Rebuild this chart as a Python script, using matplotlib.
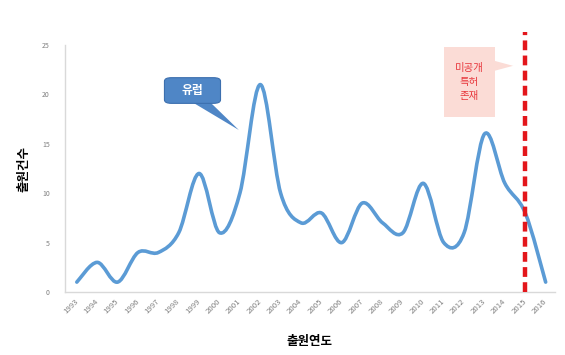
import matplotlib.pyplot as plt
import numpy as np
from matplotlib.path import Path
from matplotlib.patches import PathPatch, FancyBboxPatch, Polygon

plt.rcParams['font.family'] = ['Noto Sans CJK KR', 'DejaVu Sans']

# Data
years = [str(y) for y in range(1993, 2017)]
counts = [1, 3, 1, 4, 4, 6, 12, 6, 10, 21, 10, 7, 8, 5, 9, 7, 6, 11, 5, 6, 16, 11, 8, 1]
yticks = [0, 5, 10, 15, 20, 25]

line_color = '#5B9BD5'
axis_color = '#D9D9D9'
tick_color = '#7F7F7F'

fig = plt.figure(figsize=(5.65, 3.55), dpi=100)
ax = fig.add_axes([0.115, 0.1775, 0.867, 0.6955])

# smooth line (Excel style bezier through the data points)
x = np.arange(len(counts), dtype=float)
y = np.array(counts, dtype=float)
verts = [(x[0], y[0])]
codes = [Path.MOVETO]
for i in range(len(x) - 1):
    x0, y0 = (x[i - 1], y[i - 1]) if i > 0 else (x[i], y[i])
    x3, y3 = (x[i + 2], y[i + 2]) if i + 2 < len(x) else (x[i + 1], y[i + 1])
    c1 = (x[i] + (x[i + 1] - x0) / 6, y[i] + (y[i + 1] - y0) / 6)
    c2 = (x[i + 1] - (x3 - x[i]) / 6, y[i + 1] - (y3 - y[i]) / 6)
    verts += [c1, c2, (x[i + 1], y[i + 1])]
    codes += [Path.CURVE4] * 3
ax.add_patch(PathPatch(Path(verts, codes), fill=False, edgecolor=line_color,
                       lw=2.6, capstyle='round', joinstyle='round', zorder=3))

ax.set_xlim(-0.58, 23.45)
ax.set_ylim(0, 25)
ax.set_xticks(x)
ax.set_xticklabels(years, rotation=45, fontsize=5.6, color=tick_color,
                   ha='right', va='center', rotation_mode='anchor')
ax.set_yticks(yticks)
ax.set_yticklabels([str(t) for t in yticks], fontsize=5, color=tick_color)
ax.tick_params(axis='y', length=0, pad=11)
ax.tick_params(axis='x', length=0, pad=6)

for side in ['top', 'right']:
    ax.spines[side].set_visible(False)
for side in ['left', 'bottom']:
    ax.spines[side].set_color(axis_color)
    ax.spines[side].set_linewidth(1.0)

# red dashed line at 2015
ax.axvline(years.index('2015'), ymin=0, ymax=1.055, color='#E3161B', lw=3.2,
           ls=(0, (2.2, 1.2)), clip_on=False, zorder=4)

ax.set_ylabel('출원건수', fontsize=9, fontweight='bold', labelpad=8)
ax.set_xlabel('출원연도', fontsize=9, fontweight='bold', labelpad=14)

# callout "유럽"
tail = Polygon([(5.6, 19.3), (6.5, 19.3), (7.95, 16.4)], closed=True,
               facecolor='#4F86C6', edgecolor='none', zorder=5)
ax.add_patch(tail)
box = FancyBboxPatch((4.3, 19.1), 2.75, 2.6, boxstyle='round,pad=0,rounding_size=0.35',
                     facecolor='#4F86C6', edgecolor='#3C6FAE', lw=0.8, zorder=5)
ax.add_patch(box)
ax.text(5.67, 20.4, '유럽', color='white', fontsize=8.5, fontweight='bold',
        ha='center', va='center', zorder=6)

# callout "미공개 특허 존재"
pink = '#FBDCD6'
tail2 = Polygon([(20.5, 23.4), (21.4, 22.9), (20.5, 22.4)], closed=True,
                facecolor=pink, edgecolor='none', zorder=2)
ax.add_patch(tail2)
ax.add_patch(FancyBboxPatch((18.0, 17.7), 2.5, 7.1, boxstyle='square,pad=0',
                            facecolor=pink, edgecolor='none', zorder=2,
                            clip_on=False))
ax.text(19.25, 21.25, '미공개\n특허\n존재', color='#E8383D', fontsize=7.5,
        ha='center', va='center', linespacing=1.5, zorder=3)

fig.savefig('out.png', dpi=100)
